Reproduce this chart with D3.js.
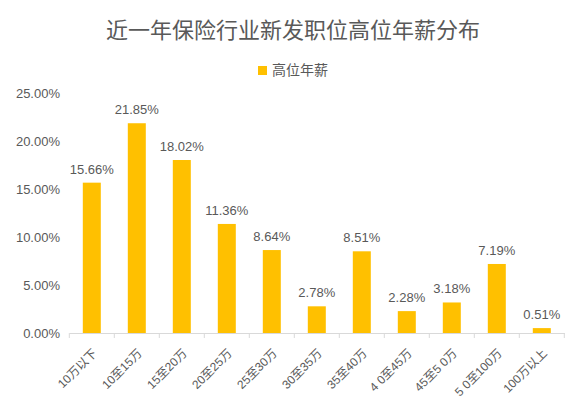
<!DOCTYPE html>
<html>
<head>
<meta charset="utf-8">
<script src="https://cdn.jsdelivr.net/npm/d3@7"></script>
<style>
  html, body { margin: 0; padding: 0; background: #fff; }
  svg { display: block; }
  text { font-family: "Liberation Sans", Arial, "Noto Sans CJK SC", sans-serif; fill: #595959; }
</style>
</head>
<body>
<svg id="chart" width="574" height="399"></svg>
<script>
const title = "近一年保险行业新发职位高位年薪分布";
const seriesName = "高位年薪";
const categories = ["10万以下", "10至15万", "15至20万", "20至25万", "25至30万", "30至35万", "35至40万", "4 0至45万", "45至5 0万", "5 0至100万", "100万以上"];
const values = [15.66, 21.85, 18.02, 11.36, 8.64, 2.78, 8.51, 2.28, 3.18, 7.19, 0.51];
const yTicks = [0, 5, 10, 15, 20, 25];

const svg = d3.select("#chart");
const plotLeft = 69.3, plotRight = 564.3, plotTop = 93, plotBottom = 333;

const x = d3.scaleBand()
  .domain(categories)
  .range([plotLeft, plotRight])
  .paddingInner(0).paddingOuter(0);

const y = d3.scaleLinear()
  .domain([0, 25])
  .range([plotBottom, plotTop]);

// Title
svg.append("text")
  .attr("x", 293).attr("y", 38)
  .attr("text-anchor", "middle")
  .style("font-family", '"Noto Sans CJK SC", sans-serif')
  .style("font-size", "22px")
  .text(title);

// Legend
svg.append("rect")
  .attr("x", 258).attr("y", 66).attr("width", 9).attr("height", 9)
  .attr("fill", "#FFC000");
svg.append("text")
  .attr("x", 272).attr("y", 75)
  .style("font-family", '"Noto Sans CJK SC", sans-serif')
  .style("font-size", "14px")
  .text(seriesName);

// Y axis (labels only)
const yAxis = d3.axisLeft(y)
  .tickValues(yTicks)
  .tickFormat(d => d.toFixed(2) + "%")
  .tickSize(0).tickPadding(0);
const gy = svg.append("g").attr("transform", "translate(60,0)").call(yAxis);
gy.select(".domain").remove();
gy.selectAll("text").style("font-size", "13px").attr("fill", "#595959").attr("dy", "0.35em");

// Bars
svg.append("g").selectAll("rect")
  .data(values)
  .join("rect")
  .attr("x", (d, i) => x(categories[i]) + x.bandwidth() / 2 - 9)
  .attr("width", 18)
  .attr("y", d => y(d))
  .attr("height", d => y(0) - y(d))
  .attr("fill", "#FFC000");

// Data labels
svg.append("g").selectAll("text")
  .data(values)
  .join("text")
  .attr("x", (d, i) => x(categories[i]) + x.bandwidth() / 2)
  .attr("y", d => y(d) - 9)
  .attr("text-anchor", "middle")
  .style("font-size", "13px")
  .text(d => d.toFixed(2) + "%");

// X axis
const xAxis = d3.axisBottom(x).tickSize(0).tickFormat("");
const gx = svg.append("g").attr("transform", `translate(0,${plotBottom})`).call(xAxis);
gx.select(".domain").attr("stroke", "#D9D9D9").attr("stroke-width", 1);
gx.selectAll(".tick").remove();

// category boundary ticks
const bounds = d3.range(categories.length + 1).map(i => plotLeft + i * x.step());
svg.append("g").selectAll("line")
  .data(bounds)
  .join("line")
  .attr("x1", d => d).attr("x2", d => d)
  .attr("y1", plotBottom).attr("y2", plotBottom + 5)
  .attr("stroke", "#D9D9D9");

// X labels
svg.append("g").selectAll("text")
  .data(categories)
  .join("text")
  .attr("transform", d => `translate(${x(d) + x.bandwidth() / 2 + 3},${351}) rotate(-45)`)
  .attr("text-anchor", "end")
  .attr("dy", "0.35em")
  .style("font-size", "12px")
  .text(d => d);
</script>
</body>
</html>
